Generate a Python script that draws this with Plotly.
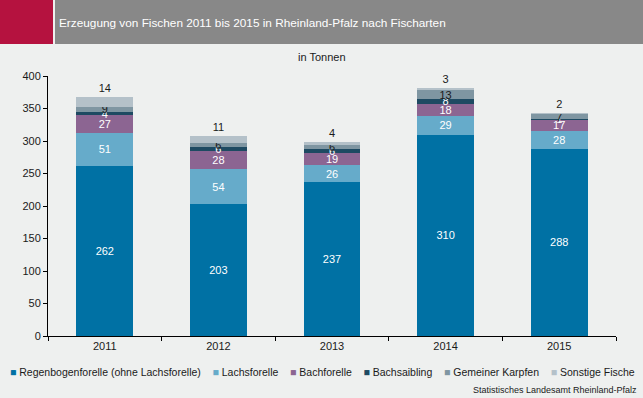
import plotly.graph_objects as go

years = ["2011", "2012", "2013", "2014", "2015"]
series_names = ["Regenbogenforelle (ohne Lachsforelle)", "Lachsforelle", "Bachforelle",
                "Bachsaibling", "Gemeiner Karpfen", "Sonstige Fische"]
regenbogen = [262, 203, 237, 310, 288]
lachs = [51, 54, 26, 29, 28]
bachforelle = [27, 28, 19, 18, 17]
bachsaibling = [4, 6, 6, 8, 1]
karpfen = [9, 6, 6, 13, 7]
sonstige = [14, 11, 4, 3, 2]

values = [regenbogen, lachs, bachforelle, bachsaibling, karpfen, sonstige]
colors = ["#0071a4", "#66abca", "#8c6592", "#1e4a62", "#7f96a2", "#b4c1c9"]
text_colors = ["white", "white", "white", "white", "#1a1a1a", "#1a1a1a"]

FONT = "Liberation Sans, Arial, sans-serif"
BG = "#eef0ef"

fig = go.Figure()
for i, (name, vals) in enumerate(zip(series_names, values)):
    fig.add_trace(go.Bar(
        x=years, y=vals, name=name,
        marker=dict(color=colors[i], line=dict(width=0)),
        text=[str(v) for v in vals],
        textposition="outside" if i == 5 else "inside",
        insidetextanchor="middle",
        textangle=0,
        textfont=dict(color=text_colors[i], size=11, family=FONT),
        outsidetextfont=dict(color=text_colors[i], size=11, family=FONT),
        cliponaxis=False,
        hoverinfo="skip",
        showlegend=False,
    ))

# pixel helpers for decorations (plot area: x 48..616, y 76..336)
L, R, T, B = 48, 616, 76, 336
W, H = 643, 398
def px(x):
    return (x - L) / (R - L)
def py(y):
    return (B - y) / (B - T)

# legend built as one text line with coloured squares
sep = "&nbsp;&nbsp;&nbsp;&nbsp;"
legend_text = sep.join(
    f"<span style='color:{c}'>■</span>&nbsp;{n}" for n, c in zip(series_names, colors)
)

fig.update_layout(
    width=W, height=H,
    barmode="stack", bargap=0.5,
    paper_bgcolor=BG, plot_bgcolor=BG,
    margin=dict(l=L, r=W - R, t=T, b=H - B, pad=0, autoexpand=False),
    font=dict(family=FONT, size=11, color="#1a1a1a"),
    uniformtext=dict(mode="show", minsize=11),
    showlegend=False,
    xaxis=dict(type="category", showline=True, linecolor="black", linewidth=1,
               ticks="outside", ticklen=4, tickcolor="black", tickson="boundaries",
               showgrid=False, tickfont=dict(size=11, color="#1a1a1a"), fixedrange=True),
    yaxis=dict(range=[0, 400], dtick=50, showline=True, linecolor="black", linewidth=1,
               ticks="outside", ticklen=4, tickcolor="black", showgrid=False,
               zeroline=False, tickfont=dict(size=11, color="#1a1a1a"), fixedrange=True),
    shapes=[
        dict(type="rect", xref="paper", yref="paper", x0=px(0), x1=px(53), y0=py(44), y1=py(0),
             fillcolor="#b5123f", line=dict(width=0), layer="above"),
        dict(type="rect", xref="paper", yref="paper", x0=px(55), x1=px(W), y0=py(44), y1=py(0),
             fillcolor="#888888", line=dict(width=0), layer="above"),
    ],
    annotations=[
        dict(text="Erzeugung von Fischen 2011 bis 2015 in Rheinland-Pfalz nach Fischarten",
             xref="paper", yref="paper", x=px(57), y=py(23), xanchor="left", yanchor="middle",
             showarrow=False, font=dict(size=11.8, color="white", family=FONT)),
        dict(text="in Tonnen", xref="paper", yref="paper", x=px(322), y=py(57),
             xanchor="center", yanchor="middle", showarrow=False,
             font=dict(size=11, color="#1a1a1a", family=FONT)),
        dict(text=legend_text, xref="paper", yref="paper", x=px(322), y=py(372),
             xanchor="center", yanchor="middle", showarrow=False,
             font=dict(size=10.5, color="#1a1a1a", family=FONT)),
        dict(text="Statistisches Landesamt Rheinland-Pfalz", xref="paper", yref="paper",
             x=px(639), y=py(390), xanchor="right", yanchor="middle", showarrow=False,
             font=dict(size=9, color="#1a1a1a", family=FONT)),
    ],
)

fig.write_html("out.html", config={"displayModeBar": False, "staticPlot": True},
               post_script="document.body.style.margin='0';")
